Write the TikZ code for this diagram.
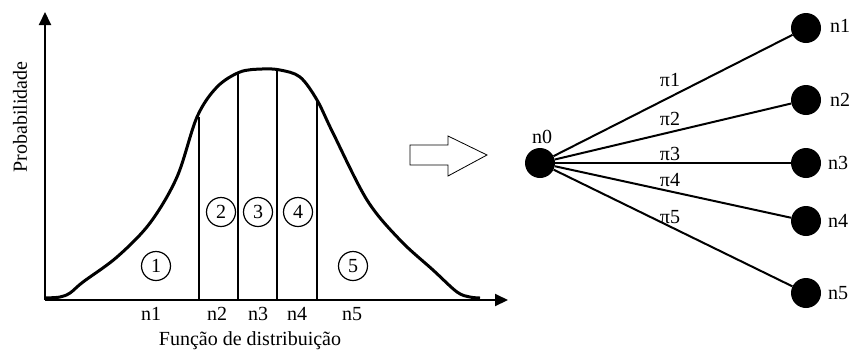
\documentclass[tikz,border=0pt]{standalone}
\usepackage{fontspec}
\setmainfont{Liberation Serif}
\usetikzlibrary{arrows.meta}
\begin{document}
\begin{tikzpicture}[x=1pt,y=-1pt,
  lbl/.style={font=\fontsize{20}{20}\selectfont, inner sep=0},
  num/.style={circle,draw,line width=1.2pt,minimum size=29pt,inner sep=0,font=\fontsize{20}{20}\selectfont},
  dot/.style={circle,fill=black,minimum size=30pt,inner sep=0},
  edge/.style={line width=2pt},
  axis/.style={line width=2pt,-{Triangle[length=13pt,width=12pt]}},
  sep/.style={line width=1.1pt}]
\useasboundingbox (0,0) rectangle (850,354);
% axes
\coordinate (O) at (45,300);
\coordinate (Ytip) at (45,12);
\coordinate (Xtip) at (508,300);
\draw[axis] (O) -- (Ytip);
\draw[axis] (O) -- (Xtip);
% curve
\draw[line width=3pt, line join=round] plot[smooth, tension=0.55] coordinates {
  (45,298) (60,297) (70,293) (83,282) (117,257) (150,223) (177,177) (197,117)
  (217,87) (240,72) (262,69) (280,70) (300,77) (317,100) (333,133) (367,200)
  (400,240) (433,270) (457,292) (470,297) (480,298)};
% separators
\draw[sep] (199,117) -- (199,300);
\draw[sep] (238,73) -- (238,300);
\draw[sep] (277,70) -- (277,300);
\draw[sep] (317,100) -- (317,300);
% circled numbers
\node[num] (r1) at (156,266) {1};
\node[num] (r2) at (221,212) {2};
\node[num] (r3) at (258,212) {3};
\node[num] (r4) at (298,212) {4};
\node[num] (r5) at (353,266) {5};
% labels below axis
\node[lbl] (l1) at (151,314) {n1};
\node[lbl] (l2) at (217,314) {n2};
\node[lbl] (l3) at (258,314) {n3};
\node[lbl] (l4) at (297,314) {n4};
\node[lbl] (l5) at (352,314) {n5};
\node[lbl] (xl) at (250,341) {Função de distribuição};
\node[lbl, rotate=90] (yl) at (20,117) {Probabilidade};
% hollow arrow
\draw[line width=0.8pt] (410,145) -- (448,145) -- (448,136) -- (487,155) -- (448,176) -- (448,165) -- (410,165) -- cycle;
% tree
\node[dot] (n0) at (540,163) {};
\node[dot] (n1) at (806,28) {};
\node[dot] (n2) at (806,100) {};
\node[dot] (n3) at (806,163) {};
\node[dot] (n4) at (806,221) {};
\node[dot] (n5) at (806,293) {};
\draw[edge] (n0) -- (n1);
\draw[edge] (n0) -- (n2);
\draw[edge] (n0) -- (n3);
\draw[edge] (n0) -- (n4);
\draw[edge] (n0) -- (n5);
\node[lbl] (t0) at (542,137) {n0};
\node[lbl] (t1) at (840,26) {n1};
\node[lbl] (t2) at (840,100) {n2};
\node[lbl] (t3) at (838,163) {n3};
\node[lbl] (t4) at (838,221) {n4};
\node[lbl] (t5) at (838,293) {n5};
\node[lbl] (p1) at (670,80) {π1};
\node[lbl] (p2) at (670,119) {π2};
\node[lbl] (p3) at (670,154) {π3};
\node[lbl] (p4) at (670,180) {π4};
\node[lbl] (p5) at (670,217) {π5};
\end{tikzpicture}
\end{document}
